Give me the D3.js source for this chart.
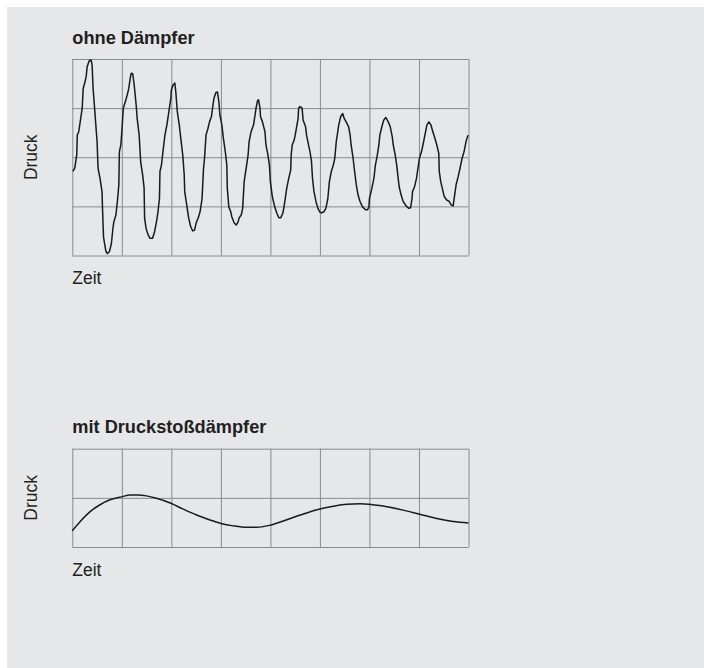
<!DOCTYPE html>
<html>
<head>
<meta charset="utf-8">
<script src="https://cdn.jsdelivr.net/npm/d3@7/dist/d3.min.js"></script>
<style>
  html, body { margin: 0; padding: 0; background: #ffffff; }
  svg { display: block; }
  text { font-family: "Liberation Sans", Arial, Helvetica, sans-serif; fill: #231f20; }
</style>
</head>
<body>
<script>
// ---- Data (time in grid units, pressure in grid units) ----
const titles = ["ohne Dämpfer", "mit Druckstoßdämpfer"];
const xLabel = "Zeit";
const yLabel = "Druck";

const timeUndamped = [0.01,0.05,0.09,0.10,0.13,0.17,0.20,0.22,0.25,0.28,0.30,0.34,0.38,0.40,0.42,0.45,0.48,0.50,0.52,0.56,
  0.60,0.61,0.63,0.65,0.68,0.71,0.75,0.79,0.82,0.84,0.88,0.91,0.94,0.95,0.98,1.00,1.03,1.07,1.11,1.14,
  1.17,1.19,1.22,1.25,1.29,1.31,1.35,1.38,1.42,1.45,1.46,1.49,1.53,1.57,1.62,1.66,1.70,1.73,1.76,1.77,
  1.80,1.83,1.87,1.91,1.95,1.99,2.00,2.03,2.07,2.09,2.12,2.16,2.19,2.23,2.26,2.27,2.31,2.35,2.39,2.43,
  2.47,2.50,2.54,2.58,2.62,2.65,2.67,2.70,2.74,2.77,2.81,2.84,2.86,2.90,2.93,2.96,2.98,3.02,3.05,3.09,
  3.12,3.13,3.16,3.20,3.22,3.27,3.31,3.35,3.37,3.41,3.44,3.47,3.49,3.52,3.55,3.57,3.61,3.66,3.68,3.71,
  3.74,3.76,3.79,3.80,3.84,3.89,3.91,3.95,3.98,4.00,4.04,4.09,4.13,4.17,4.21,4.25,4.27,4.30,4.33,4.37,
  4.41,4.42,4.44,4.48,4.50,4.53,4.56,4.57,4.60,4.64,4.66,4.71,4.73,4.77,4.80,4.83,4.85,4.88,4.92,4.96,
  5.00,5.04,5.08,5.12,5.16,5.19,5.23,5.27,5.30,5.33,5.35,5.38,5.42,5.46,5.49,5.53,5.58,5.61,5.63,5.67,
  5.70,5.74,5.77,5.81,5.86,5.92,5.96,5.99,6.00,6.04,6.09,6.12,6.16,6.19,6.21,6.25,6.29,6.33,6.38,6.42,
  6.46,6.48,6.52,6.55,6.58,6.60,6.64,6.68,6.74,6.79,6.83,6.86,6.87,6.91,6.95,6.98,7.01,7.05,7.08,7.12,
  7.16,7.20,7.24,7.28,7.32,7.36,7.40,7.41,7.44,7.47,7.51,7.56,7.61,7.65,7.69,7.72,7.75,7.79,7.83,7.87,
  7.91,7.95,7.99];
const pressureUndamped = [1.71,1.78,2.05,2.45,2.52,2.79,3.00,3.40,3.51,3.64,3.84,3.96,3.98,3.88,3.40,3.00,2.59,2.32,1.78,1.57,
  1.30,0.96,0.38,0.25,0.08,0.04,0.08,0.25,0.55,0.69,0.82,1.10,1.44,2.11,2.25,2.52,3.00,3.13,3.27,3.40,
  3.61,3.71,3.70,3.47,3.06,2.79,2.45,1.91,1.64,1.37,0.76,0.55,0.42,0.35,0.35,0.48,0.69,0.89,1.16,1.71,
  1.84,2.11,2.45,2.66,2.93,3.20,3.37,3.46,3.51,3.33,2.93,2.66,2.39,2.05,1.64,1.30,1.03,0.76,0.59,0.50,
  0.52,0.66,0.76,0.89,1.16,1.78,1.98,2.45,2.59,2.72,2.83,3.06,3.20,3.32,3.33,3.13,2.86,2.66,2.39,2.11,
  1.84,1.37,0.99,0.89,0.79,0.66,0.62,0.69,0.77,0.82,0.96,1.50,1.64,1.84,2.05,2.32,2.52,2.66,2.79,3.00,
  3.15,3.17,3.00,2.83,2.72,2.52,2.25,2.05,1.84,1.50,1.19,0.98,0.86,0.77,0.77,0.86,0.96,1.16,1.37,1.57,
  1.74,2.05,2.25,2.35,2.45,2.62,2.79,3.00,3.03,3.00,2.76,2.62,2.45,2.25,2.11,1.91,1.57,1.30,1.10,0.96,
  0.88,0.87,0.89,0.96,1.16,1.50,1.71,1.84,1.98,2.32,2.45,2.66,2.83,2.89,2.79,2.72,2.62,2.45,2.25,1.98,
  1.71,1.40,1.23,1.10,0.99,0.93,0.93,0.99,1.16,1.33,1.57,1.84,2.05,2.25,2.45,2.62,2.76,2.81,2.72,2.62,
  2.42,2.25,2.05,1.84,1.57,1.40,1.23,1.10,1.01,0.96,0.97,1.16,1.30,1.40,1.57,1.78,1.98,2.11,2.25,2.45,
  2.66,2.72,2.66,2.52,2.39,2.25,2.08,1.71,1.50,1.37,1.20,1.13,1.10,1.03,1.01,1.23,1.44,1.60,1.78,1.98,
  2.11,2.32,2.45];

const timeDamped = [0.00,0.16,0.36,0.56,0.76,0.99,1.17,1.33,1.50,1.70,1.99,2.24,2.51,2.78,3.00,3.25,3.52,3.72,3.98,4.26,
  4.60,4.98,5.27,5.54,5.81,5.99,6.35,6.68,7.00,7.36,7.69,8.00];
const pressureDamped = [0.33,0.52,0.72,0.86,0.96,1.02,1.06,1.06,1.04,0.99,0.89,0.77,0.65,0.55,0.48,0.43,0.40,0.40,0.44,0.53,
  0.65,0.77,0.83,0.87,0.88,0.87,0.82,0.75,0.67,0.58,0.52,0.49];

const timeTicks = [0,1,2,3,4,5,6,7,8];
const pressureTicksTop = [0,1,2,3,4];
const pressureTicksBottom = [0,1,2];

// ---- Layout ----
const W = 704, H = 668;
const svg = d3.select("body").append("svg").attr("width", W).attr("height", H);
svg.append("rect").attr("x", 7).attr("y", 7).attr("width", W - 7).attr("height", H - 7).attr("fill", "#e6e7e9");

const panels = [
  { title: titles[0], top: 59, bottom: 255.5, ticks: pressureTicksTop, t: timeUndamped, p: pressureUndamped, curve: d3.curveLinear },
  { title: titles[1], top: 448.7, bottom: 547, ticks: pressureTicksBottom, t: timeDamped, p: pressureDamped, curve: d3.curveMonotoneX }
];

const left = 72.3, right = 468.5;

panels.forEach(pn => {
  const x = d3.scaleLinear().domain([0, 8]).range([left, right]);
  const y = d3.scaleLinear().domain([0, pn.ticks[pn.ticks.length - 1]]).range([pn.bottom, pn.top]);
  const g = svg.append("g");

  // grid via axes
  const gx = g.append("g").attr("transform", `translate(0,${pn.bottom})`)
    .call(d3.axisBottom(x).tickValues(timeTicks).tickSize(-(pn.bottom - pn.top)).tickFormat(""));
  const gy = g.append("g").attr("transform", `translate(${left},0)`)
    .call(d3.axisLeft(y).tickValues(pn.ticks).tickSize(-(right - left)).tickFormat(""));
  [gx, gy].forEach(a => {
    a.select(".domain").remove();
    a.selectAll(".tick line").attr("stroke", "#8a8a8a").attr("stroke-width", 1);
  });

  const line = d3.line().x((d, i) => x(pn.t[i])).y(d => y(d)).curve(pn.curve);
  g.append("path").datum(pn.p).attr("d", line)
    .attr("fill", "none").attr("stroke", "#1a1a1a").attr("stroke-width", 1.5)
    .attr("stroke-linejoin", "round");

  g.append("text").attr("x", left).attr("y", pn.top - 15.5)
    .attr("font-size", 18.2).attr("font-weight", "bold").text(pn.title);
  g.append("text").attr("x", left).attr("y", pn.bottom + 28.5)
    .attr("font-size", 17.5).text(xLabel);
  g.append("text").attr("transform", `translate(37,${(pn.top + pn.bottom) / 2}) rotate(-90)`)
    .attr("text-anchor", "middle").attr("font-size", 17.5).text(yLabel);
});
</script>
</body>
</html>
